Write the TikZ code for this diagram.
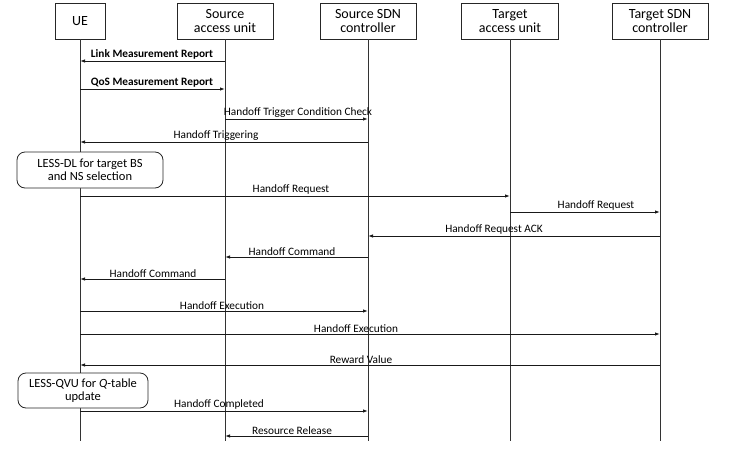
\documentclass[tikz,border=0pt]{standalone}
\usepackage{fontspec}
\setmainfont{Carlito}
\usetikzlibrary{arrows.meta}
\begin{document}
\begin{tikzpicture}[x=1pt,y=-1pt,
  actor/.style={draw=black!85,line width=0.8pt,minimum height=36pt,align=center,inner sep=0pt,font=\fontsize{14}{14.5}\selectfont},
  life/.style={draw=black!80,line width=1pt},
  msg/.style={draw=black!90,line width=0.9pt,-{Latex[length=5pt,width=3.5pt]}},
  lbl/.style={anchor=south,inner sep=1.2pt,font=\fontsize{11.3}{11.3}\selectfont},
  blbl/.style={lbl,font=\fontsize{11.3}{11.3}\selectfont\bfseries},
  proc/.style={draw=black!85,fill=white,line width=0.8pt,rounded corners=8pt,align=center,inner sep=0pt,font=\fontsize{12.5}{13.5}\selectfont}]
\useasboundingbox (0,0) rectangle (732,450);
% actors
\node[actor,minimum width=50pt] (ue) at (80,21) {UE};
\node[actor,minimum width=96pt] (sau) at (225,21) {Source\\access unit};
\node[actor,minimum width=96pt] (ssdn) at (368,21) {Source SDN\\controller};
\node[actor,minimum width=97pt] (tau) at (510,21) {Target\\access unit};
\node[actor,minimum width=96pt] (tsdn) at (660,21) {Target SDN\\controller};
% lifeline ends
\coordinate (ueE) at (80,441);
\coordinate (sauE) at (225,441);
\coordinate (ssdnE) at (368,441);
\coordinate (tauE) at (510,441);
\coordinate (tsdnE) at (660,441);
\draw[life] (ue.south) -- (ueE);
\draw[life] (sau.south) -- (sauE);
\draw[life] (ssdn.south) -- (ssdnE);
\draw[life] (tau.south) -- (tauE);
\draw[life] (tsdn.south) -- (tsdnE);
% process boxes
\node[proc,minimum width=146pt,minimum height=36pt] (dl) at (90,170) {LESS-DL for target BS\\and NS selection};
\node[proc,minimum width=130pt,minimum height=35pt] (qvu) at (83,390.5) {LESS-QVU for \textit{Q}-table\\update};
% message points
\coordinate (a1) at (225,61);  \coordinate (b1) at (80,61);
\coordinate (a2) at (80,89);   \coordinate (b2) at (225,89);
\coordinate (a3) at (225,119); \coordinate (b3) at (368,119);
\coordinate (a4) at (368,142); \coordinate (b4) at (80,142);
\coordinate (a5) at (80,196);  \coordinate (b5) at (510,196);
\coordinate (a6) at (510,212); \coordinate (b6) at (660,212);
\coordinate (a7) at (660,236); \coordinate (b7) at (368,236);
\coordinate (a8) at (368,257); \coordinate (b8) at (225,257);
\coordinate (a9) at (225,279); \coordinate (b9) at (80,279);
\coordinate (a10) at (80,311); \coordinate (b10) at (368,311);
\coordinate (a11) at (80,334); \coordinate (b11) at (660,334);
\coordinate (a12) at (660,365); \coordinate (b12) at (80,365);
\coordinate (a13) at (80,411); \coordinate (b13) at (368,411);
\coordinate (a14) at (368,436); \coordinate (b14) at (225,436);
% messages
\draw[msg] (a1) -- (b1);
\node[blbl] (l1) at (152,61) {Link Measurement Report};
\draw[msg] (a2) -- (b2);
\node[blbl] (l2) at (152,89) {QoS Measurement Report};
\draw[msg] (a3) -- (b3);
\node[lbl] (l3) at (298,119) {Handoff Trigger Condition Check};
\draw[msg] (a4) -- (b4);
\node[lbl] (l4) at (216,142) {Handoff Triggering};
\draw[msg] (a5) -- (b5);
\node[lbl] (l5) at (291,196) {Handoff Request};
\draw[msg] (a6) -- (b6);
\node[lbl] (l6) at (596,212) {Handoff Request};
\draw[msg] (a7) -- (b7);
\node[lbl] (l7) at (494,236) {Handoff Request ACK};
\draw[msg] (a8) -- (b8);
\node[lbl] (l8) at (292,257) {Handoff Command};
\draw[msg] (a9) -- (b9);
\node[lbl] (l9) at (153,279) {Handoff Command};
\draw[msg] (a10) -- (b10);
\node[lbl] (l10) at (222,311) {Handoff Execution};
\draw[msg] (a11) -- (b11);
\node[lbl] (l11) at (356,334) {Handoff Execution};
\draw[msg] (a12) -- (b12);
\node[lbl] (l12) at (361,365) {Reward Value};
\draw[msg] (a13) -- (b13);
\node[lbl] (l13) at (219,411) {Handoff Completed};
\draw[msg] (a14) -- (b14);
\node[lbl] (l14) at (292,436) {Resource Release};
\end{tikzpicture}
\end{document}
